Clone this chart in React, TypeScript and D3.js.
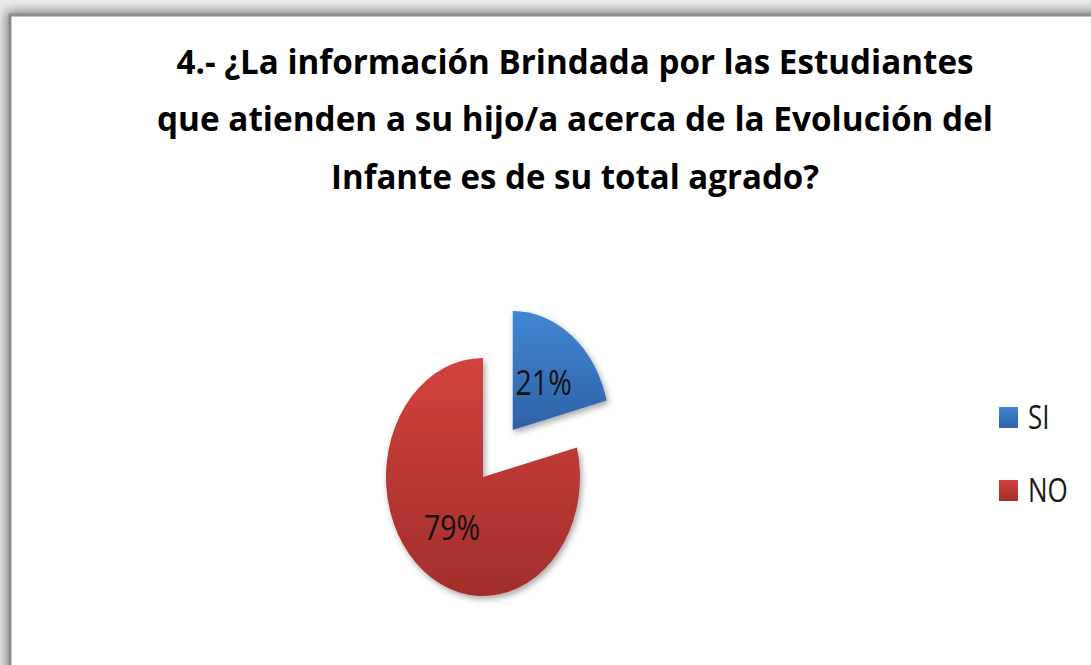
import React from "react";
import * as d3 from "d3";

const categories = ["SI", "NO"];
const values = [21, 79];
const labels = ["21%", "79%"];
const titleLines = [
  "4.- ¿La información Brindada por las Estudiantes",
  "que atienden a su hijo/a acerca de la Evolución del",
  "Infante es de su total agrado?",
];
const titleWidths = [797, 836, 488];

const W = 1091;
const H = 665;
const SY = 1.227; // vertical stretch of the picture
const R = 97;
const CX = 483;
const CY = 477;
const EXPLODE = [0.5, 0];

const fills = [
  { id: "gSI", top: "#4286d3", bottom: "#2e62a6" },
  { id: "gNO", top: "#d2423e", bottom: "#a12e2b" },
];

export default function App() {
  const pie = d3.pie<number>().sort(null).startAngle(0).endAngle(2 * Math.PI);
  const arcs = pie(values);
  const arc = d3.arc<d3.PieArcDatum<number>>().innerRadius(0).outerRadius(R);
  const labelArc = d3.arc<d3.PieArcDatum<number>>().innerRadius(R * 0.52).outerRadius(R * 0.52);

  const titleY = d3.scaleLinear().domain([0, 2]).range([73.5, 189]);
  const legendY = d3.scaleBand().domain(categories).range([381, 527]).paddingInner(0);

  return (
    <div style={{ position: "fixed", left: 0, top: 0, width: W, height: H }}>
      <svg width={W} height={H} style={{ display: "block" }}>
        <defs>
          <filter id="frameShadow" x="-10%" y="-10%" width="120%" height="120%">
            <feGaussianBlur stdDeviation="6" />
          </filter>
          <filter id="pieShadow" x="-30%" y="-30%" width="160%" height="160%">
            <feDropShadow dx="2" dy="3" stdDeviation="3" floodColor="#000" floodOpacity="0.35" />
          </filter>
          {fills.map((f) => (
            <linearGradient key={f.id} id={f.id} x1="0" y1="0" x2="0" y2="1">
              <stop offset="0" stopColor={f.top} />
              <stop offset="1" stopColor={f.bottom} />
            </linearGradient>
          ))}
        </defs>
        <rect x={0} y={0} width={W} height={H} fill="#ececec" />
        <rect x={6} y={11} width={W + 50} height={H + 50} fill="#808080" filter="url(#frameShadow)" />
        <rect x={10} y={15} width={W + 50} height={H + 50} fill="#ffffff" stroke="#8c8c8c" strokeWidth={3} />

        {titleLines.map((t, i) => (
          <text
            key={i}
            transform={`translate(575,${titleY(i)}) scale(1,${SY})`}
            textAnchor="middle"
            textLength={titleWidths[i]}
            lengthAdjust="spacingAndGlyphs"
            fontFamily="'Open Sans', 'DejaVu Sans', sans-serif"
            fontWeight="bold"
            fontSize={27.4}
            fill="#000"
          >
            {t}
          </text>
        ))}

        <g transform={`translate(${CX},${CY})`} filter="url(#pieShadow)">
          {arcs.map((a, i) => {
            const mid = (a.startAngle + a.endAngle) / 2;
            const dx = Math.sin(mid) * R * EXPLODE[i];
            const dy = -Math.cos(mid) * R * EXPLODE[i];
            return (
              <path
                key={i}
                d={arc(a) || ""}
                transform={`scale(1,${SY}) translate(${dx},${dy})`}
                fill={`url(#${fills[i].id})`}
              />
            );
          })}
        </g>
        {arcs.map((a, i) => {
          const mid = (a.startAngle + a.endAngle) / 2;
          const dx = Math.sin(mid) * R * EXPLODE[i];
          const dy = -Math.cos(mid) * R * EXPLODE[i];
          const [lx, ly] = labelArc.centroid(a);
          const x = CX + lx + dx;
          const y = CY + (ly + dy) * SY;
          return (
            <text
              key={i}
              transform={`translate(${x},${y}) scale(1,${SY})`}
              textAnchor="middle"
              dominantBaseline="central"
              fontFamily="'Open Sans', 'DejaVu Sans', sans-serif"
              fontSize={28.5}
              fill="#111"
            >
              {labels[i]}
            </text>
          );
        })}

        {categories.map((c, i) => {
          const y = (legendY(c) as number) + legendY.bandwidth() / 2;
          return (
            <g key={c}>
              <rect x={999} y={y - 10.5} width={19} height={21} fill={`url(#${fills[i].id})`} />
              <text
                transform={`translate(1028,${y + 11.5}) scale(1,${SY})`}
                fontFamily="'Open Sans', 'DejaVu Sans', sans-serif"
                fontSize={26}
                fill="#1a1a1a"
              >
                {c}
              </text>
            </g>
          );
        })}
      </svg>
    </div>
  );
}
